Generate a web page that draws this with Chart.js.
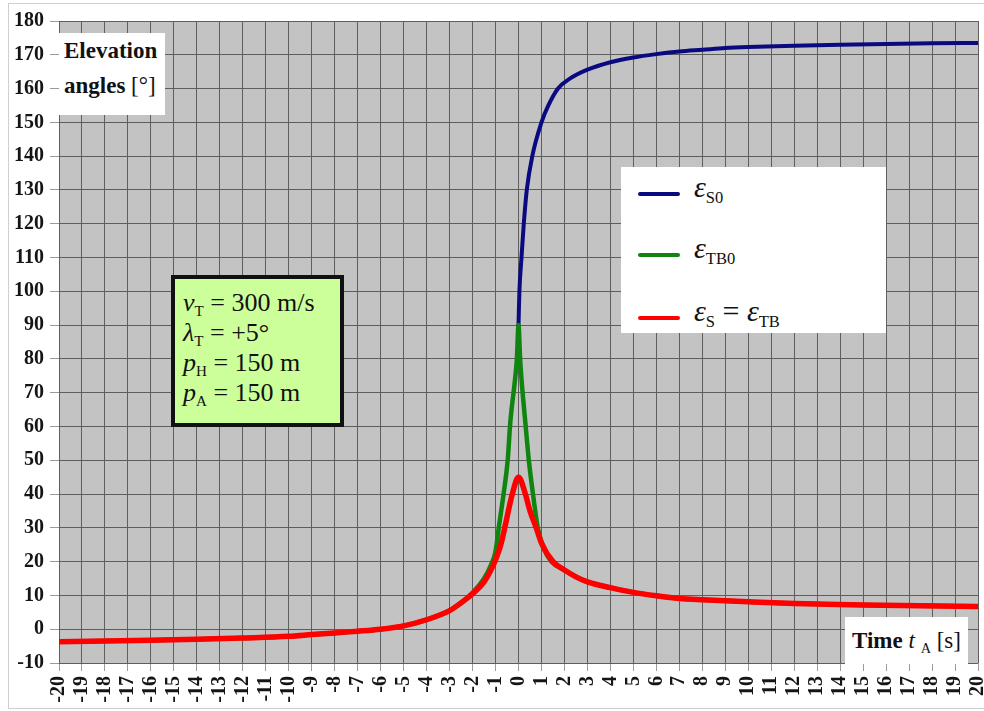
<!DOCTYPE html>
<html>
<head>
<meta charset="utf-8">
<script src="https://cdn.jsdelivr.net/npm/chart.js@4/dist/chart.umd.min.js"></script>
<style>
  body { margin: 0; background: #fff; }
  #wrap { position: relative; width: 984px; height: 711px; }
  #frame { position: absolute; left: 8px; top: 3px; width: 985px; height: 704px; border: 1px solid #cfcfcf; pointer-events: none; }
  .box { position: absolute; background: #fff; font-family: "Liberation Serif", "Times New Roman", serif; color: #111; }
  sub { font-size: 62%; vertical-align: -0.35em; line-height: 0; }
  #ylab { left: 59px; top: 33px; width: 106px; height: 82px; font-size: 23px; line-height: 35px; padding-left: 5px; box-sizing: border-box; }
  #xlab { left: 845px; top: 617px; width: 123px; height: 47px; font-size: 23px; line-height: 47px; text-align: center; white-space: nowrap; }
  #legend { left: 621px; top: 167px; width: 265px; height: 166px; }
  .item { position: absolute; left: 17px; height: 30px; }
  .swatch { position: absolute; left: 0; top: 13px; width: 42px; height: 4px; border-radius: 2px; }
  .ltxt { position: absolute; left: 56px; top: -9px; font-size: 30px; white-space: nowrap; }
  .ltxt sub { font-size: 55%; }
  #params { left: 171px; top: 275px; width: 173px; height: 152px; background: #ccff99; border: 4px solid #111; box-sizing: border-box; font-size: 26px; line-height: 30px; padding: 9px 0 0 8px; white-space: nowrap; }
  #params sub { font-size: 58%; }
</style>
</head>
<body>
<div id="wrap">
  <canvas id="myChart"></canvas>
  <div class="box" id="ylab"><b>Elevation</b><br><b>angles</b> [°]</div>
  <div class="box" id="params">
    <i>v</i><sub>T</sub> = 300 m/s<br>
    <i>λ</i><sub>T</sub> = +5°<br>
    <i>p</i><sub>H</sub> = 150 m<br>
    <i>p</i><sub>A</sub> = 150 m
  </div>
  <div class="box" id="legend">
    <div class="item" style="top:12px"><div class="swatch" style="background:#0a0a80"></div><div class="ltxt"><i>ε</i><sub>S0</sub></div></div>
    <div class="item" style="top:73px"><div class="swatch" style="background:#0f850f"></div><div class="ltxt"><i>ε</i><sub>TB0</sub></div></div>
    <div class="item" style="top:136px"><div class="swatch" style="background:#ff0000"></div><div class="ltxt"><i>ε</i><sub>S</sub> = <i>ε</i><sub>TB</sub></div></div>
  </div>
  <div class="box" id="xlab"><b>Time</b> <i>t</i> <sub>A</sub> [s]</div>
  <div id="frame"></div>
</div>
<script>
// elevation angle of the sensor toward the target, eps_S0 (starts at t = 0)
const blueT = [0, 0.04, 0.13, 0.23, 0.36, 0.6, 1.0, 1.3, 1.72, 2.25, 3, 4, 5, 6, 7, 8, 9, 10, 12, 14, 16, 18, 20];
const blueV = [90, 100, 110, 120, 130, 140, 150, 155, 160, 163, 165.6, 167.8, 169.2, 170.2, 171, 171.5, 172, 172.3, 172.7, 173, 173.2, 173.4, 173.5];

// eps_TB0
const greenT = [-20, -18, -16, -14, -12, -10, -9, -8, -7, -6, -5, -4, -3, -2.5, -2, -1.5, -1.2, -1, -0.86, -0.65, -0.47, -0.36, -0.15, -0.07, 0,
                0.07, 0.13, 0.3, 0.45, 0.63, 0.84, 1.1, 1.43, 2, 2.5, 3, 4, 5, 6, 7, 8, 10, 12, 15, 20];
const greenV = [-3.7, -3.5, -3.3, -3.0, -2.6, -2.1, -1.6, -1.1, -0.6, 0, 1.0, 2.8, 5.5, 7.8, 10.8, 15, 19, 23, 30, 40, 50, 61, 74, 80, 90,
                80, 74, 61, 50, 40, 30, 24, 20, 17.5, 15.5, 14, 12.3, 10.9, 9.9, 9.1, 8.7, 8.1, 7.6, 7.2, 6.7];

// eps_S = eps_TB
const redT = [-20, -18, -16, -14, -12, -10, -9, -8, -7, -6, -5, -4, -3, -2.5, -2, -1.5, -1, -0.75, -0.6, -0.27, 0,
              0.3, 0.5, 0.77, 1, 1.5, 2, 2.5, 3, 4, 5, 6, 7, 8, 10, 12, 15, 20];
const redV = [-3.7, -3.5, -3.3, -3.0, -2.6, -2.1, -1.6, -1.1, -0.6, 0, 1.0, 2.8, 5.5, 7.8, 10.5, 14, 20.5, 25.5, 30, 40, 45,
              40, 35, 30, 25.5, 20, 17.5, 15.5, 14, 12.3, 10.9, 9.9, 9.1, 8.7, 8.1, 7.6, 7.2, 6.7];

const xMin = -20, xMax = 20;
const yMin = -10, yMax = 180;

function pts(ts, vs) {
    return ts.map((t, i) => ({ x: t, y: vs[i] }));
}

// grey plot area like the spreadsheet chart
const plotBg = {
    id: 'plotBg',
    beforeDraw(chart) {
        const { ctx, chartArea: a } = chart;
        ctx.save();
        ctx.fillStyle = '#c3c3c3';
        ctx.fillRect(a.left, a.top, a.width, a.height);
        ctx.restore();
    }
};

const serif = '"Liberation Serif", "Times New Roman", serif';

function drawChart() {
    new Chart(document.getElementById('myChart'), {
        type: 'line',
        data: {
            datasets: [
                { label: 'eps_S = eps_TB', data: pts(redT, redV), borderColor: '#ff0000', borderWidth: 5.5 },
                { label: 'eps_TB0', data: pts(greenT, greenV), borderColor: '#0f850f', borderWidth: 4.5 },
                { label: 'eps_S0', data: pts(blueT, blueV), borderColor: '#0a0a80', borderWidth: 4 }
            ]
        },
        options: {
            responsive: true,
            maintainAspectRatio: false,
            animation: false,
            layout: { padding: { left: 0, right: 6, top: 21, bottom: 0 } },
            elements: {
                point: { radius: 0 },
                line: { cubicInterpolationMode: 'monotone', fill: false, borderCapStyle: 'round', borderJoinStyle: 'round' }
            },
            plugins: { legend: { display: false }, tooltip: { enabled: false } },
            scales: {
                x: {
                    type: 'linear',
                    min: xMin, max: xMax,
                    afterFit: (s) => { s.height = 48; s.paddingLeft = 0; s.paddingRight = 0; },
                    border: { display: false },
                    grid: { color: '#5e5e5e', lineWidth: 1, tickLength: 8, tickColor: '#9a9a9a' },
                    ticks: {
                        stepSize: 1, autoSkip: false, minRotation: 90, maxRotation: 90,
                        padding: 5, color: '#151515', font: { family: serif, weight: 'bold', size: 20 }
                    }
                },
                y: {
                    min: yMin, max: yMax,
                    afterFit: (s) => { s.width = 59; s.paddingTop = 0; s.paddingBottom = 0; },
                    border: { display: false },
                    grid: { color: '#5e5e5e', lineWidth: 1, tickLength: 9, tickColor: '#9a9a9a' },
                    ticks: {
                        stepSize: 10, padding: 6, color: '#151515', font: { family: serif, weight: 'bold', size: 20 }
                    }
                }
            }
        },
        plugins: [plotBg]
    });
}

// make sure the serif face is ready before the canvas uses it
Promise.all([
    document.fonts.load('bold 20px "Liberation Serif"'),
    document.fonts.load('20px "Liberation Serif"')
]).then(drawChart, drawChart);
</script>
</body>
</html>
